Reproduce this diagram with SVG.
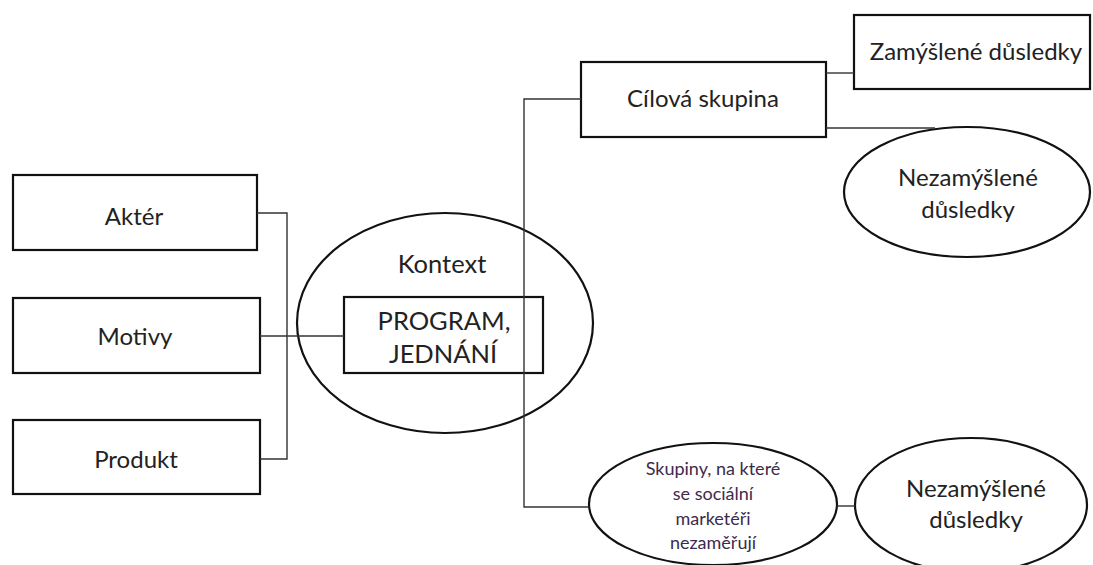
<svg xmlns="http://www.w3.org/2000/svg" width="1093" height="565" viewBox="0 0 1093 565">
<style>
.box{fill:#fff;stroke:#111;stroke-width:2.2}
.ell{fill:#fff;stroke:#111;stroke-width:2.2}
.con{fill:none;stroke:#333;stroke-width:1.4}
text{font-family:Lato,"Liberation Sans",sans-serif;fill:#222;text-anchor:middle}
.l{font-size:24px}
.k{font-size:25.5px}
.s{font-size:18px;fill:#3d2a4d}
</style>
<rect width="1093" height="565" fill="#fff"/>
<g id="akter"><rect class="box" x="13" y="175" width="244" height="75"/><text class="l" x="134" y="225">Aktér</text></g>
<g id="motivy"><rect class="box" x="13" y="298" width="247" height="75"/><text class="l" x="135" y="345">Motivy</text></g>
<g id="produkt"><rect class="box" x="13" y="420" width="247" height="74"/><text class="l" x="136" y="468">Produkt</text></g>
<g id="kontext"><ellipse class="ell" cx="445" cy="323" rx="148" ry="110"/><text class="k" x="442" y="273">Kontext</text></g>
<g id="program"><rect class="box" x="344" y="297" width="199" height="76"/><text class="k" x="444" y="330">PROGRAM,</text><text class="k" x="443" y="363">JEDNÁNÍ</text></g>
<g id="cilova"><rect class="box" x="581" y="62" width="245" height="75"/><text class="l" x="703" y="107">Cílová skupina</text></g>
<g id="zamyslene"><rect class="box" x="854" y="15" width="236" height="74"/><text class="l" x="976" y="60">Zamýšlené důsledky</text></g>
<g id="nezamyslene1"><ellipse class="ell" cx="967" cy="192" rx="123" ry="65"/><text class="l" x="968" y="186">Nezamýšlené</text><text class="l" x="968" y="218">důsledky</text></g>
<g id="skupiny"><ellipse class="ell" cx="713" cy="504" rx="124" ry="61"/><text class="s" x="713" y="475">Skupiny, na které</text><text class="s" x="713" y="500">se sociální</text><text class="s" x="713" y="525">marketéři</text><text class="s" x="713" y="549">nezaměřují</text></g>
<g id="nezamyslene2"><ellipse class="ell" cx="971" cy="505" rx="116" ry="67"/><text class="l" x="976" y="497">Nezamýšlené</text><text class="l" x="976" y="528">důsledky</text></g>
<g id="connectors">
<path class="con" d="M257 213 H287 V459 H260"/>
<path class="con" d="M260 336 H344"/>
<path class="con" d="M581 99 H524 V507 H589"/>
<path class="con" d="M826 73 H854"/>
<path class="con" d="M826 128 H935"/>
<path class="con" d="M837 506 H855"/>
</g>
</svg>
